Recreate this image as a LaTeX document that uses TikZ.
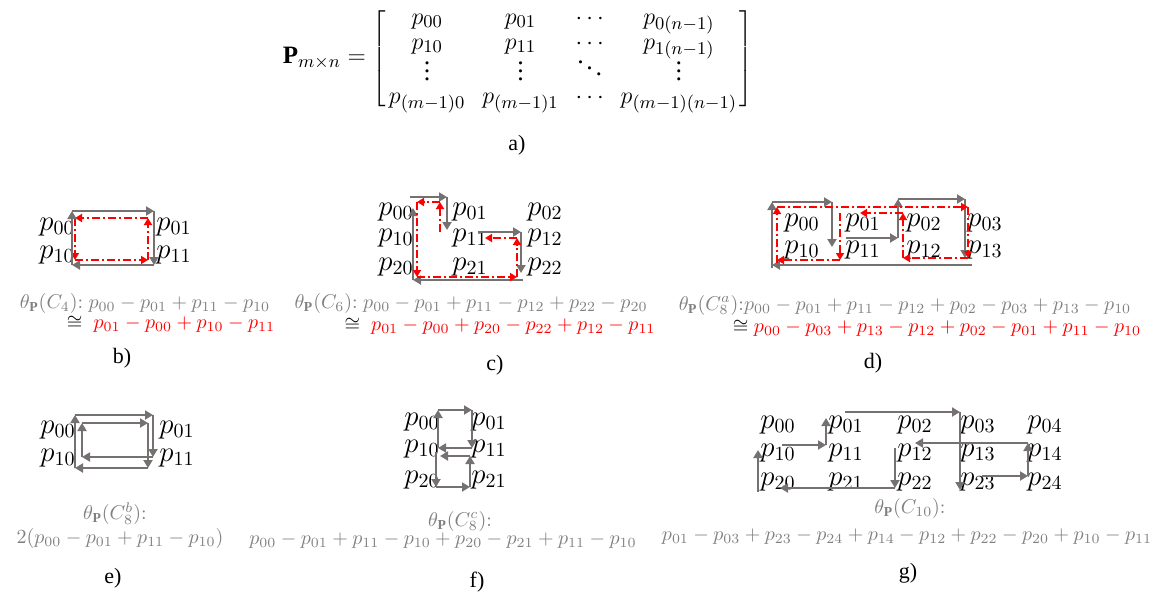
\documentclass[tikz,border=0pt]{standalone}
\usepackage{amsmath, amssymb}
\usepackage{fontspec}
\setmainfont{Liberation Serif}
\usetikzlibrary{arrows.meta, matrix}
\definecolor{arrowgray}{RGB}{118, 113, 113}
\definecolor{formulagray}{RGB}{128, 128, 128}

\begin{document}
\begin{tikzpicture}[x=0.5pt, y=-0.5pt,
  lbl/.style={font=\fontsize{14}{16}\selectfont, inner sep=0pt},
  frm/.style={font=\fontsize{9.8}{12}\selectfont, text=formulagray, inner sep=0pt},
  subcap/.style={font=\fontsize{11}{13}\selectfont, inner sep=0pt},
  garr/.style={draw=arrowgray, line width=1.3pt, -{Triangle[length=4pt, width=4.5pt]}},
  rarr/.style={draw=red, line width=1.1pt, dash pattern=on 4pt off 1.5pt on 1pt off 1.5pt, -{Triangle[length=3.5pt, width=4pt]}}]
\useasboundingbox (0,0) rectangle (1158,595);

% a)
\matrix (pmat) [matrix of math nodes, inner sep=0pt, column sep=8.5pt, row sep=3.5pt,
  nodes={font=\fontsize{13}{15}\selectfont, text height=7.5pt, text depth=3pt, inner sep=0pt},
  left delimiter={[}, right delimiter={]}] at (563,59) {
  p_{00} & p_{01} & \cdots & p_{0(n-1)}\\[-1.5pt]
  p_{10} & p_{11} & \cdots & p_{1(n-1)}\\[-1.5pt]
  \raisebox{-3pt}{$\vdots$} & \raisebox{-3pt}{$\vdots$} & \raisebox{-1.5pt}{$\ddots$} & \raisebox{-3pt}{$\vdots$}\\[0.5pt]
  p_{(m-1)0} & p_{(m-1)1} & \cdots & p_{(m-1)(n-1)}\\
};
\node[anchor=east, font=\fontsize{12.5}{15}\selectfont] (plhs) at (373,58) {$\mathbf{P}_{m\times n}=$};
\node[subcap] (capa) at (517,145) {a)};

% b)
\foreach \r/\y in {0/227,1/255}
  \foreach \c/\x in {0/57,1/174}
    \node[lbl] (b\r\c) at (\x,\y) {$p_{\r\c}$};
\foreach \n/\x/\y in {1/72/211, 2/154/211, 3/154/265, 4/72/265}
  \coordinate (bg\n) at (\x,\y);
\foreach \n/\x/\y in {1/148/218, 2/75/218, 3/75/260, 4/148/260}
  \coordinate (br\n) at (\x,\y);
\foreach \a/\b in {1/2,2/3,3/4,4/1} {
  \draw[garr] (bg\a) -- (bg\b);
  \draw[rarr] (br\a) -- (br\b);
}
\node[frm] (fb1) at (145,303) {$\theta_{\mathbf{P}}(C_4){:}\;p_{00}-p_{01}+p_{11}-p_{10}$};
\node[frm] (fb2) at (171,324) {$\color{black}\cong\;\color{red}p_{01}-p_{00}+p_{10}-p_{11}$};
\node[subcap] (capb) at (122,358) {b)};

% c)
\foreach \r/\y in {0/212,1/238,2/267}
  \foreach \c/\x in {0/396,1/470,2/545}
    \node[lbl] (c\r\c) at (\x,\y) {$p_{\r\c}$};
\foreach \n/\x/\y in {1/410/197, 2/447/197, 3/447/230, 4/478/232, 5/521/232, 6/521/273, 7/523/280, 8/413/280, 9/413/208}
  \coordinate (cg\n) at (\x,\y);
\foreach \n/\x/\y in {1/440/232, 2/440/202, 3/417/202, 4/417/277, 5/517/277, 6/517/238, 7/485/238}
  \coordinate (cr\n) at (\x,\y);
\foreach \a/\b in {1/2,2/3,4/5,5/6,7/8,8/9}
  \draw[garr] (cg\a) -- (cg\b);
\foreach \a/\b in {1/2,2/3,3/4,4/5,5/6,6/7}
  \draw[rarr] (cr\a) -- (cr\b);
\node[frm] (fc1) at (471,303) {$\theta_{\mathbf{P}}(C_6){:}\;p_{00}-p_{01}+p_{11}-p_{12}+p_{22}-p_{20}$};
\node[frm] (fc2) at (500,326) {$\color{black}\cong\;\color{red}p_{01}-p_{00}+p_{20}-p_{22}+p_{12}-p_{11}$};
\node[subcap] (capc) at (495,365) {c)};

% d)
\foreach \r/\y in {0/223,1/250}
  \foreach \c/\x in {0/802,1/863,2/924,3/985}
    \node[lbl] (d\r\c) at (\x,\y) {$p_{\r\c}$};
\foreach \n/\x/\y in {1/772/268, 2/772/202, 3/832/202, 4/832/247, 5/846/238, 6/898/238, 7/898/199, 8/965/199, 9/965/258, 10/972/265, 11/772/265}
  \coordinate (dg\n) at (\x,\y);
\foreach \n/\x/\y in {1/777/263, 2/777/207, 3/968/207, 4/968/258, 5/903/258, 6/903/213, 7/860/213, 8/840/213, 9/840/260, 10/777/260}
  \coordinate (dr\n) at (\x,\y);
\foreach \a/\b in {1/2,2/3,3/4,5/6,6/7,7/8,8/9,10/11}
  \draw[garr] (dg\a) -- (dg\b);
\foreach \a/\b in {1/2,2/3,3/4,4/5,5/6,6/7,8/9,9/10}
  \draw[rarr] (dr\a) -- (dr\b);
\node[frm] (fd1) at (905,305) {$\theta_{\mathbf{P}}(C_8^a){:}p_{00}-p_{01}+p_{11}-p_{12}+p_{02}-p_{03}+p_{13}-p_{10}$};
\node[frm] (fd2) at (937,328) {$\color{black}\cong\color{red}p_{00}-p_{03}+p_{13}-p_{12}+p_{02}-p_{01}+p_{11}-p_{10}$};
\node[subcap] (capd) at (873,363) {d)};

% e)
\foreach \r/\y in {0/430,1/458}
  \foreach \c/\x in {0/58,1/177}
    \node[lbl] (e\r\c) at (\x,\y) {$p_{\r\c}$};
\foreach \n/\x/\y in {1/75/468, 2/75/415, 3/153/415, 4/153/457, 5/82/457, 6/82/423, 7/148/423, 8/148/468}
  \coordinate (eg\n) at (\x,\y);
\foreach \a/\b in {1/2,2/3,3/4,4/5,5/6,6/7,7/8,8/1}
  \draw[garr] (eg\a) -- (eg\b);
\node[frm] (fe1) at (115,514) {$\theta_{\mathbf{P}}(C_8^b){:}$};
\node[frm] (fe2) at (120,538) {$2(p_{00}-p_{01}+p_{11}-p_{10})$};
\node[subcap] (cape) at (113,578) {e)};

% f)
\foreach \r/\y in {0/422,1/449,2/480}
  \foreach \c/\x in {0/422,1/489}
    \node[lbl] (f\r\c) at (\x,\y) {$p_{\r\c}$};
\foreach \n/\x/\y in {1/438/448, 2/438/410, 3/472/410, 4/472/448, 5/436/452, 6/436/487, 7/470/487, 8/470/456, 9/440/456}
  \coordinate (fg\n) at (\x,\y);
\foreach \a/\b in {1/2,2/3,3/4,4/1,5/6,6/7,7/8,8/9}
  \draw[garr] (fg\a) -- (fg\b);
\node[frm] (ff1) at (460,521) {$\theta_{\mathbf{P}}(C_8^c){:}$};
\node[frm] (ff2) at (443,541) {$p_{00}-p_{01}+p_{11}-p_{10}+p_{20}-p_{21}+p_{11}-p_{10}$};
\node[subcap] (capf) at (477,582) {f)};

% g)
\foreach \r/\y in {0/425,1/453,2/482}
  \foreach \c/\x in {0/778,1/846,2/915,3/978,4/1045}
    \node[lbl] (g\r\c) at (\x,\y) {$p_{\r\c}$};
\foreach \n/\x/\y in {1/845/412, 2/960/412, 3/960/490, 4/982/476, 5/1028/476, 6/1028/443, 7/915/443, 8/895/448, 9/895/488, 10/780/488, 11/758/492, 12/758/450, 13/782/445, 14/826/445, 15/826/418}
  \coordinate (gg\n) at (\x,\y);
\foreach \a/\b in {1/2,2/3,4/5,5/6,6/7,8/9,9/10,11/12,13/14,14/15}
  \draw[garr] (gg\a) -- (gg\b);
\node[frm] (fg1) at (910,508) {$\theta_{\mathbf{P}}(C_{10}){:}$};
\node[frm] (fg2) at (907,537) {$p_{01}-p_{03}+p_{23}-p_{24}+p_{14}-p_{12}+p_{22}-p_{20}+p_{10}-p_{11}$};
\node[subcap] (capg) at (908,573) {g)};
\end{tikzpicture}
\end{document}
